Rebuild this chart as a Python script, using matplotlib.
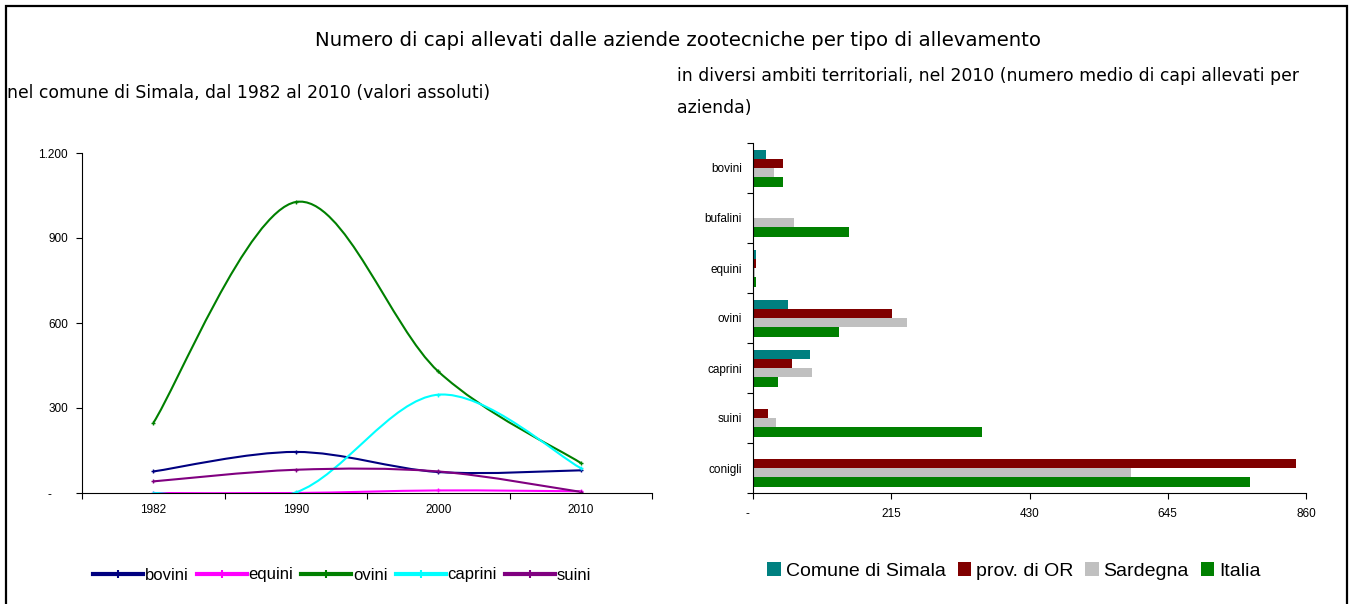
import matplotlib
matplotlib.use("Agg")
import matplotlib.pyplot as plt
from matplotlib.path import Path
from matplotlib.patches import PathPatch, Rectangle
from matplotlib.lines import Line2D
from matplotlib.ticker import FuncFormatter, FixedLocator

# ------------------------------------------------------------
# Data
# ------------------------------------------------------------
years = ["1982", "1990", "2000", "2010"]
bovini = [76, 145, 74, 80]
equini = [0, 0, 9, 6]
ovini = [247, 1027, 429, 106]
caprini = [0, 2, 347, 88]
suini = [41, 82, 76, 4]

line_names = ["bovini", "equini", "ovini", "caprini", "suini"]
line_series = [bovini, equini, ovini, caprini, suini]
line_colors = ["#000080", "#FF00FF", "#008000", "#00FFFF", "#800080"]

animals = ["bovini", "bufalini", "equini", "ovini", "caprini", "suini", "conigli"]
simala = [20, 0, 5, 54, 89, 0, 0]
prov_or = [47, 0, 4, 216, 61, 23, 845]
sardegna = [32, 63, 3, 240, 92, 35, 588]
italia = [46, 149, 5, 133, 39, 356, 773]

bar_names = ["Comune di Simala", "prov. di OR", "Sardegna", "Italia"]
bar_series = [simala, prov_or, sardegna, italia]
bar_colors = ["#008080", "#800000", "#C0C0C0", "#008000"]

TICK_FONT = "Liberation Sans"
TEXT_FONT = "DejaVu Sans"
TICK_SIZE = 8.5


def smooth_path(xs, ys):
    # Excel-style smoothed line: cubic Bezier through the points
    pts = list(zip(xs, ys))
    n = len(pts)
    verts = [pts[0]]
    codes = [Path.MOVETO]
    for i in range(n - 1):
        p0 = pts[i - 1] if i > 0 else pts[i]
        p1 = pts[i]
        p2 = pts[i + 1]
        p3 = pts[i + 2] if i + 2 < n else pts[i + 1]
        c1 = (p1[0] + (p2[0] - p0[0]) / 6, p1[1] + (p2[1] - p0[1]) / 6)
        c2 = (p2[0] - (p3[0] - p1[0]) / 6, p2[1] - (p3[1] - p1[1]) / 6)
        verts += [c1, c2, p2]
        codes += [Path.CURVE4] * 3
    return Path(verts, codes)


def thousands(v, _pos):
    # accounting style: zero shown as a dash set back from the axis
    if v == 0:
        return "-     "
    return f"{int(v):,}".replace(",", ".")


fig = plt.figure(figsize=(13.56, 6.04), dpi=100)

# outer frame
fig.patches.append(Rectangle((0.0045, -0.01), 0.9885, 1.0, transform=fig.transFigure,
                             fill=False, edgecolor="black", linewidth=1.6))

fig.text(0.5, 1 - 40 / 604, "Numero di capi allevati dalle aziende zootecniche per tipo di allevamento",
         ha="center", va="center", fontsize=14.2, family=TEXT_FONT)
fig.text(7 / 1356, 1 - 93 / 604, "nel comune di Simala, dal 1982 al 2010 (valori assoluti)",
         ha="left", va="center", fontsize=12.4, family=TEXT_FONT)
fig.text(677 / 1356, 1 - 76 / 604,
         "in diversi ambiti territoriali, nel 2010 (numero medio di capi allevati per",
         ha="left", va="center", fontsize=12.4, family=TEXT_FONT)
fig.text(677 / 1356, 1 - 108 / 604, "azienda)",
         ha="left", va="center", fontsize=12.4, family=TEXT_FONT)

# ------------------------------------------------------------
# Left: smoothed lines
# ------------------------------------------------------------
ax1 = fig.add_axes([82 / 1356, 1 - 493 / 604, 570 / 1356, 340 / 604])
x_pos = list(range(len(years)))
handles = []
for name, vals, col in zip(line_names, line_series, line_colors):
    patch = PathPatch(smooth_path(x_pos, vals), fill=False, edgecolor=col, linewidth=1.5)
    ax1.add_patch(patch)
    ax1.plot(x_pos, vals, linestyle="none", marker="+", markersize=3.5, mew=1, color=col)
    handles.append(Line2D([], [], color=col, linewidth=3, marker="+", markersize=6, mew=1.5))

ax1.set_xlim(-0.5, len(years) - 0.5)
ax1.set_ylim(0, 1200)
ax1.set_yticks([0, 300, 600, 900, 1200])
ax1.yaxis.set_major_formatter(FuncFormatter(thousands))
ax1.xaxis.set_major_locator(FixedLocator([i - 0.5 for i in range(len(years) + 1)]))
ax1.xaxis.set_major_formatter(FuncFormatter(lambda v, p: ""))
ax1.set_xticks(x_pos, minor=True)
ax1.set_xticklabels(years, minor=True)
ax1.tick_params(axis="x", which="minor", length=0, pad=8)
ax1.tick_params(axis="x", which="major", length=4, direction="out")
ax1.tick_params(axis="y", length=4, direction="out", pad=6)
for lab in ax1.get_xticklabels(minor=True) + ax1.get_yticklabels():
    lab.set_fontsize(TICK_SIZE)
    lab.set_family(TICK_FONT)
for side in ["top", "right"]:
    ax1.spines[side].set_visible(False)
ax1.spines["left"].set_linewidth(0.8)
ax1.spines["bottom"].set_linewidth(0.8)

fig.legend(handles, line_names, loc="center", bbox_to_anchor=(342 / 1356, 1 - 575 / 604),
           ncol=5, frameon=False, handlelength=3.0, handletextpad=0.1, columnspacing=0.5,
           prop={"family": TICK_FONT, "size": 12})

# ------------------------------------------------------------
# Right: horizontal grouped bars
# ------------------------------------------------------------
ax2 = fig.add_axes([753 / 1356, 1 - 493 / 604, 553 / 1356, 350 / 604])
bar_h = 0.185
y_pos = list(range(len(animals)))
bar_handles = []
for j, (name, vals, col) in enumerate(zip(bar_names, bar_series, bar_colors)):
    ys = [y + (j - 1.5) * bar_h for y in y_pos]
    ax2.barh(ys, vals, height=bar_h, color=col, edgecolor="none")
    bar_handles.append(Rectangle((0, 0), 1, 1, facecolor=col, edgecolor="none"))

ax2.set_xlim(0, 860)
ax2.set_ylim(len(animals) - 0.5, -0.5)
ax2.set_xticks([0, 215, 430, 645, 860])
ax2.xaxis.set_major_formatter(FuncFormatter(lambda v, p: "-   " if v == 0 else f"{int(v)}"))
ax2.yaxis.set_major_locator(FixedLocator([i - 0.5 for i in range(len(animals) + 1)]))
ax2.yaxis.set_major_formatter(FuncFormatter(lambda v, p: ""))
ax2.set_yticks(y_pos, minor=True)
ax2.set_yticklabels(animals, minor=True)
ax2.tick_params(axis="y", which="minor", length=0, pad=8)
ax2.tick_params(axis="y", which="major", length=4, direction="out")
ax2.tick_params(axis="x", length=4, direction="out", pad=7)
for lab in ax2.get_yticklabels(minor=True) + ax2.get_xticklabels():
    lab.set_fontsize(TICK_SIZE)
    lab.set_family(TICK_FONT)
for side in ["top", "right"]:
    ax2.spines[side].set_visible(False)
ax2.spines["left"].set_linewidth(0.8)
ax2.spines["bottom"].set_linewidth(0.8)

fig.legend(bar_handles, bar_names, loc="center", bbox_to_anchor=(1014 / 1356, 1 - 571 / 604),
           ncol=4, frameon=False, handlelength=0.7, handleheight=0.7, handletextpad=0.25,
           columnspacing=0.6, prop={"family": TICK_FONT, "size": 14})

fig.savefig("out.png", dpi=100)
